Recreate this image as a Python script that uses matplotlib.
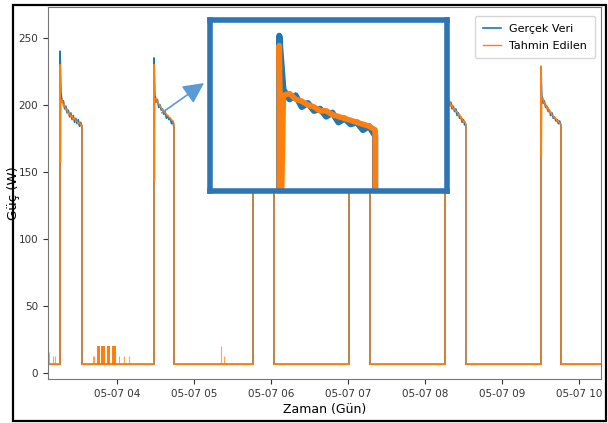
import numpy as np
import pandas as pd
import matplotlib
matplotlib.use("Agg")
import matplotlib.pyplot as plt
import matplotlib.dates as mdates
from matplotlib import font_manager
from matplotlib.patches import Rectangle

day = "2019-05-07 "
series_start = "03:06:10"
series_end = "10:17:15"
base_level = 6.5

# pulse windows
on_times = ["03:15:36", "04:28:50", "05:46:00", "07:00:50", "08:15:35", "09:30:25"]
off_times = ["03:32:40", "04:44:25", "06:02:20", "07:17:10", "08:31:55", "09:46:00"]

real_peaks = [240, 235, 238, 236, 237, 228]
pred_peaks = [230, 230, 231, 229, 230, 229]
pred_dips = [157, 143, 150, 152, 148, 161]

# plateau readings (start -> end of each pulse)
real_plateau = [
    [209, 202, 203, 197, 199, 194, 196, 191, 194, 189, 192, 187, 190, 186, 189, 184, 187, 183],
    [207, 202, 204, 198, 200, 196, 197, 193, 195, 190, 192, 189, 190, 186, 188, 183],
    [208, 202, 203, 198, 199, 195, 196, 193, 194, 191, 192, 189, 190, 187, 189, 186, 185],
    [207, 203, 202, 199, 198, 196, 195, 193, 194, 191, 192, 188, 190, 186, 188, 185, 185],
    [209, 203, 205, 200, 202, 197, 199, 195, 197, 192, 194, 190, 191, 187, 189, 185, 185],
    [207, 201, 203, 198, 199, 195, 196, 192, 194, 190, 191, 188, 189, 186, 188, 184],
]
pred_plateau = [
    [201, 204, 199, 200, 196, 197, 193, 194, 191, 192, 189, 190, 188, 188, 186, 187, 185, 185],
    [204, 205, 202, 201, 199, 198, 196, 196, 194, 193, 192, 191, 190, 189, 188, 186],
    [205, 204, 200, 201, 197, 198, 194, 195, 192, 193, 190, 191, 188, 189, 187, 187, 186],
    [204, 205, 200, 201, 197, 198, 194, 195, 192, 193, 190, 190, 188, 188, 186, 187, 186],
    [206, 207, 202, 203, 199, 200, 197, 197, 195, 195, 192, 193, 190, 190, 187, 188, 186],
    [205, 205, 201, 201, 197, 198, 194, 195, 192, 192, 190, 190, 188, 188, 186, 186],
]

# short standby spikes
spike_times = ["03:07:20", "03:10:00", "03:12:00", "03:14:40", "03:41:00", "03:42:20",
               "04:01:50", "04:05:40", "04:09:25", "05:20:50", "05:23:25"]
spike_heights = [15.5, 13, 13, 13, 13, 13, 13, 13, 13, 20, 13]
block_starts = ["03:44:10", "03:47:30", "03:52:00", "03:55:50"]
block_ends = ["03:46:40", "03:50:40", "03:54:30", "03:59:00"]
block_height = 20


def build(peaks, plateaus, dips=None):
    ts = [pd.Timestamp(day + series_start)]
    vs = [base_level]
    for i in range(len(on_times)):
        t_on = pd.Timestamp(day + on_times[i])
        t_off = pd.Timestamp(day + off_times[i])
        ts += [t_on, t_on]
        vs += [base_level, peaks[i]]
        if dips is not None:
            ts.append(t_on + pd.Timedelta(seconds=20))
            vs.append(dips[i])
        ts += list(pd.date_range(t_on + pd.Timedelta(seconds=40), t_off, periods=len(plateaus[i])))
        vs += plateaus[i]
        ts.append(t_off)
        vs.append(base_level)
    ts.append(pd.Timestamp(day + series_end))
    vs.append(base_level)
    return ts, vs


real_t, real_v = build(real_peaks, real_plateau)
pred_t, pred_v = build(pred_peaks, pred_plateau, pred_dips)

# the original screenshot is squeezed sideways, a narrow face fits it best
names = {f.name for f in font_manager.fontManager.ttflist}
if "Liberation Sans Narrow" in names:
    narrow = "Liberation Sans Narrow"
    tick_fs, leg_fs, xl_fs = 8.5, 9.5, 10
else:
    narrow = "DejaVu Sans"
    tick_fs, leg_fs, xl_fs = 7.5, 8, 9
plt.rcParams["font.family"] = [narrow, "DejaVu Sans"]

blue = "#1f77b4"
orange = "#ff7f0e"

fig = plt.figure(figsize=(6.08, 4.23), dpi=100)
ax = fig.add_axes([0.0789, 0.104, 0.9096, 0.8795])

ax.plot(real_t, real_v, color=blue, lw=1.2, label="Gerçek Veri")
ax.plot(pred_t, pred_v, color=orange, lw=1.0, label="Tahmin Edilen")
sp_t = [pd.Timestamp(day + s) for s in spike_times]
ax.vlines(sp_t, base_level, spike_heights, color=orange, lw=0.8, alpha=0.7)
for s, e in zip(block_starts, block_ends):
    ax.fill_between([pd.Timestamp(day + s), pd.Timestamp(day + e)], base_level, block_height,
                    color=orange, lw=0)

ax.set_xlim(pd.Timestamp(day + series_start), pd.Timestamp(day + series_end))
ax.set_ylim(-4.5, 273)
ax.set_yticks([0, 50, 100, 150, 200, 250])
ax.xaxis.set_major_locator(mdates.HourLocator())
ax.xaxis.set_major_formatter(mdates.DateFormatter("%m-%d %H"))
ax.tick_params(labelsize=tick_fs, length=3.5, width=0.8, colors="#333333")
for sp in ax.spines.values():
    sp.set_color("#777777")
    sp.set_linewidth(0.8)
ax.set_xlabel("Zaman (Gün)", fontsize=xl_fs, labelpad=3)
# the y label is rotated, so it was not squeezed: keep the regular face
ax.set_ylabel("Güç (W)", fontsize=9.5, family="DejaVu Sans")
ax.yaxis.set_label_coords(-0.05, 0.5)

ax.legend(loc="upper right", prop={"size": leg_fs}, handlelength=1.7,
          handletextpad=0.7, borderpad=0.7, labelspacing=0.6, bbox_to_anchor=(0.999, 0.99))

# zoom of the second pulse
axins = fig.add_axes([0.3446, 0.5473, 0.3914, 0.4043])
axins.plot(real_t, real_v, color=blue, lw=4.5, solid_joinstyle="round")
axins.plot(pred_t, pred_v, color=orange, lw=4, solid_joinstyle="round")
axins.set_xlim(pd.Timestamp(day + "04:17:30"), pd.Timestamp(day + "04:56:10"))
axins.set_ylim(154, 243)
axins.set_xticks([])
axins.set_yticks([])
for sp in axins.spines.values():
    sp.set_color("#2e75b6")
    sp.set_linewidth(4)

ax.annotate("", xy=(-0.023, 0.634), xycoords=axins,
            xytext=(mdates.date2num(pd.Timestamp(day + "04:34:50")), 194), textcoords="data",
            arrowprops=dict(arrowstyle="-|>,head_length=0.9,head_width=0.45",
                            color="#5b9bd5", lw=1.2, shrinkA=0, shrinkB=0, mutation_scale=14))

# outer frame
fig.patches.append(Rectangle((13 / 608, 2 / 423), 593 / 608, 416 / 423, fill=False,
                             edgecolor="black", lw=1.6, transform=fig.transFigure))

fig.savefig("out.png", dpi=100)
